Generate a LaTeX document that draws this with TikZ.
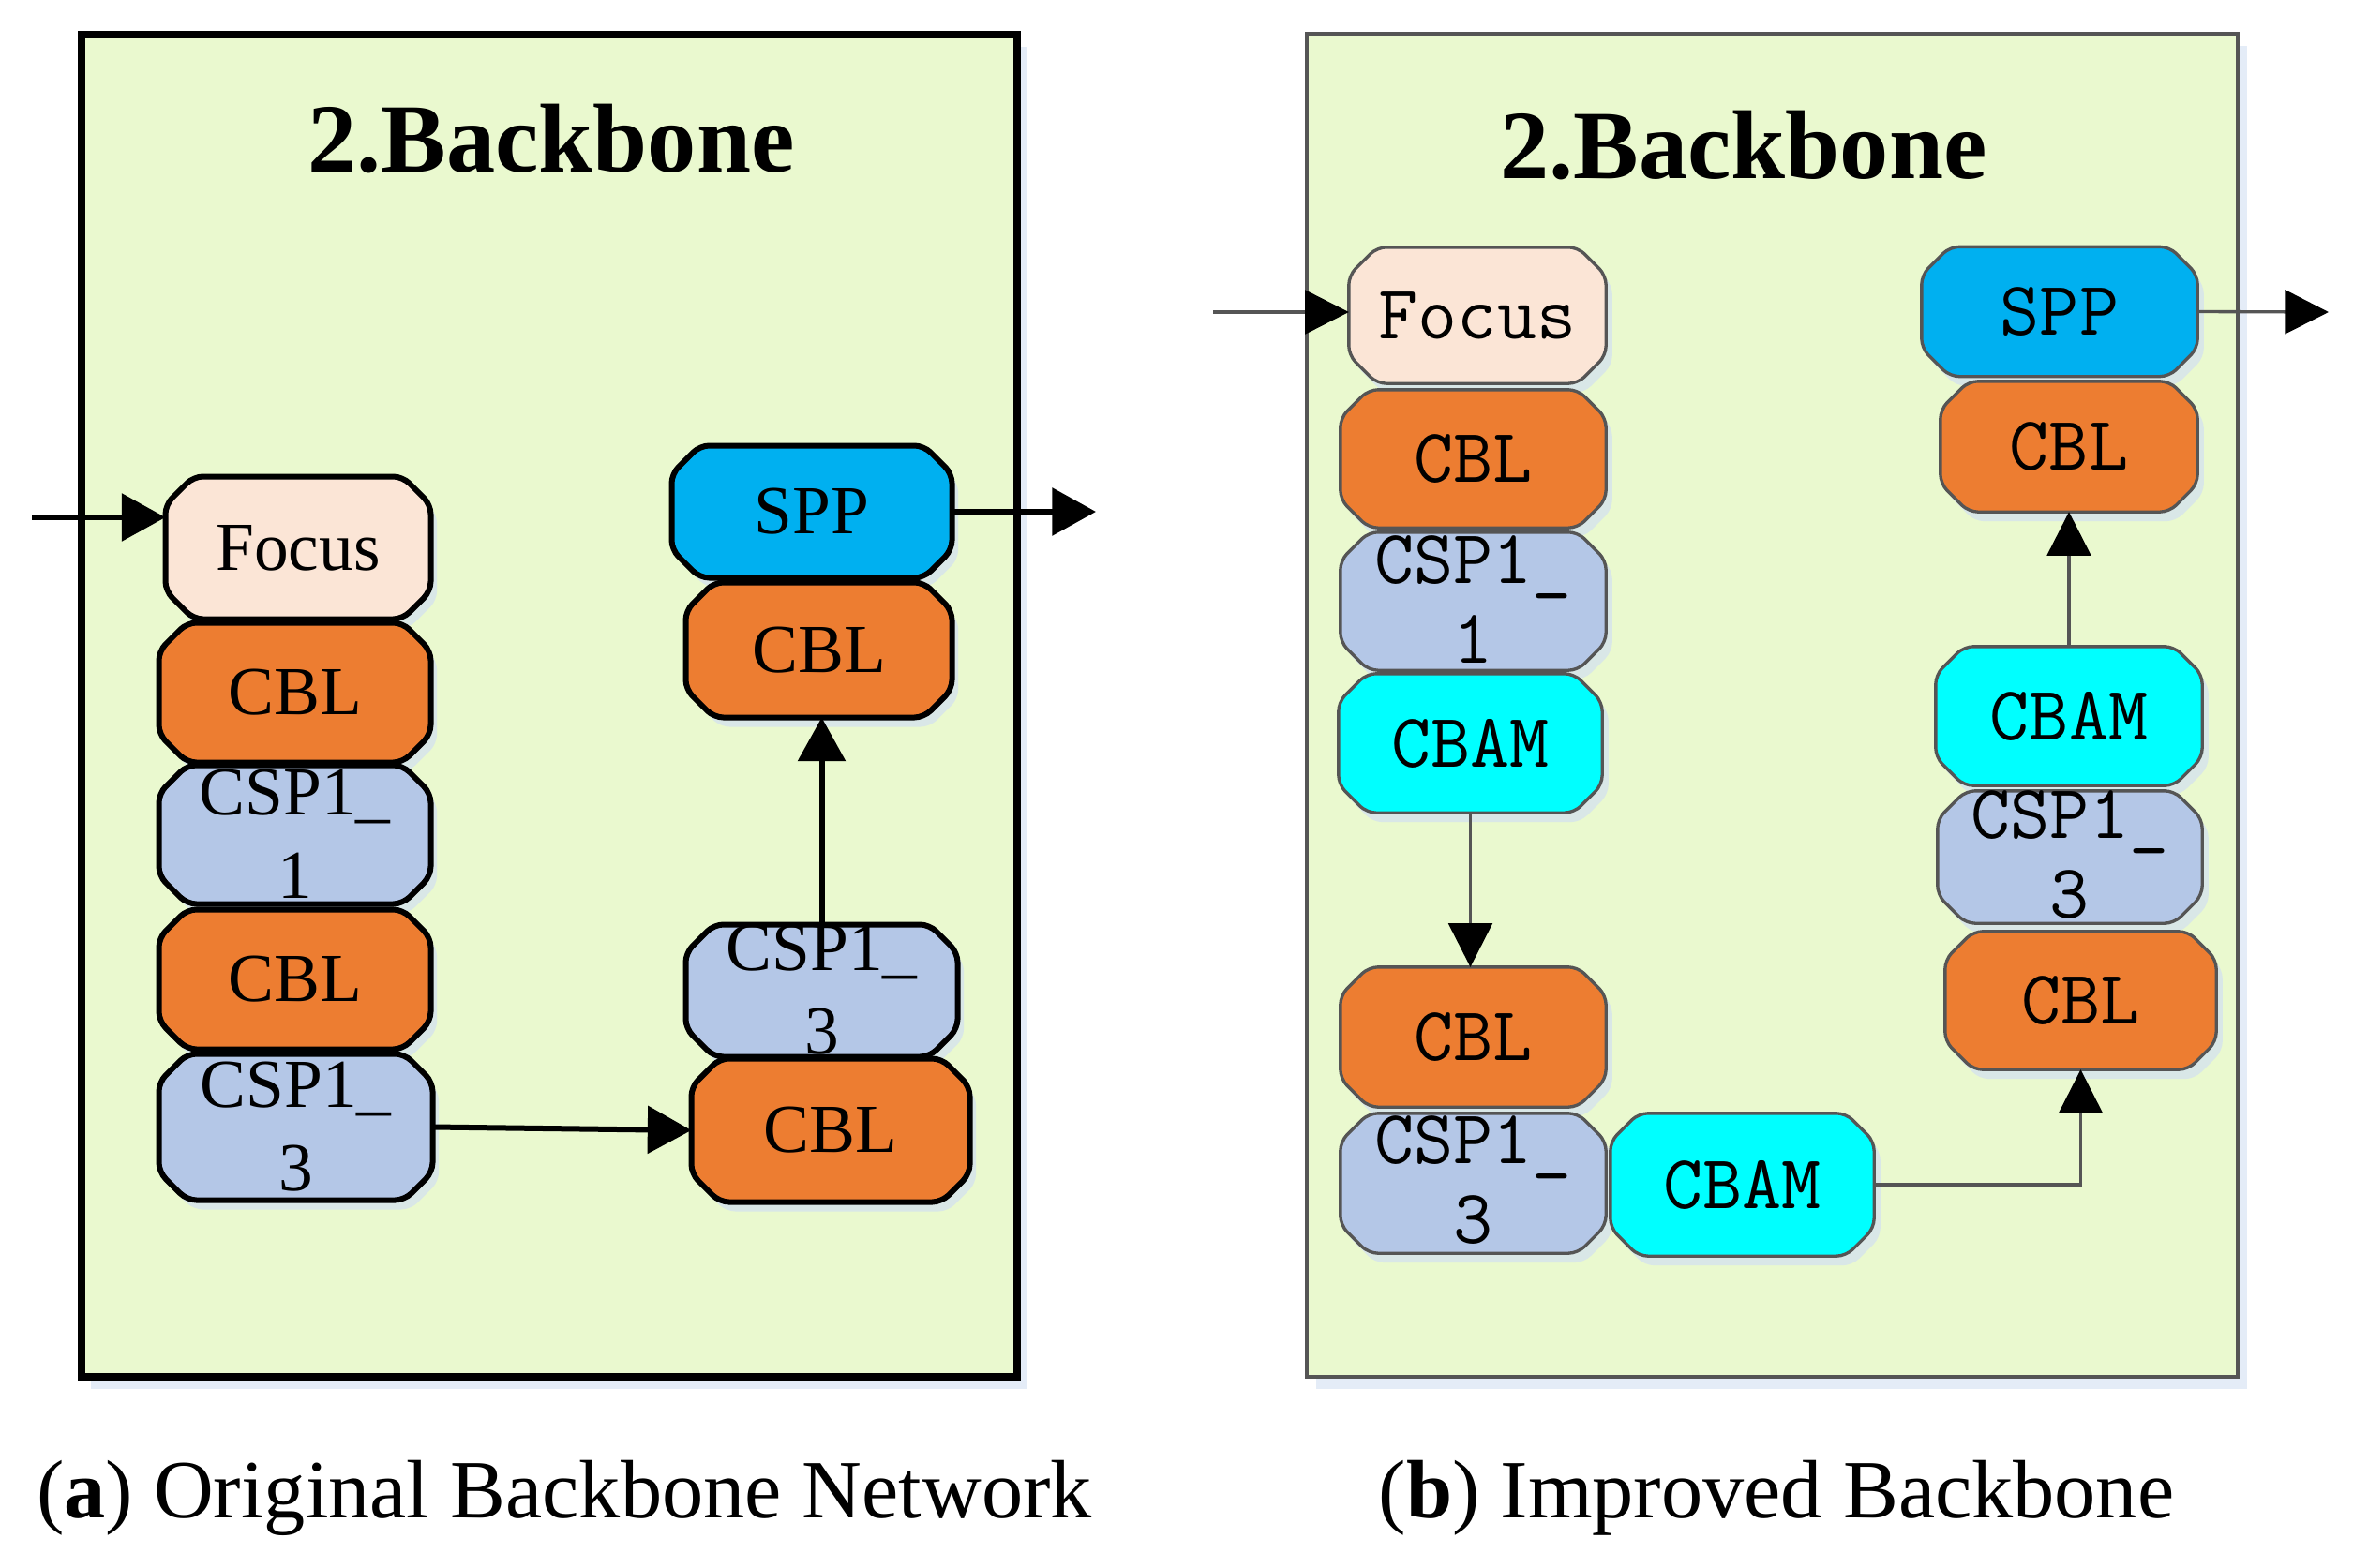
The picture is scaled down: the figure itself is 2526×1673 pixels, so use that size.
\documentclass[tikz,border=0pt]{standalone}
\usepackage{fontspec}
\setmainfont{Liberation Serif}
\usetikzlibrary{arrows.meta,shadows}
\definecolor{panelbg}{RGB}{234,249,207}
\definecolor{focusc}{RGB}{251,229,214}
\definecolor{cblc}{RGB}{237,125,49}
\definecolor{cspc}{RGB}{180,199,231}
\definecolor{sppc}{RGB}{0,176,240}
\definecolor{cbamc}{RGB}{0,255,255}
\definecolor{rimgray}{RGB}{85,85,85}
\definecolor{shadec}{RGB}{210,224,242}
% two-line label that does not grow the box
\newcommand{\splitlbl}[3]{\raisebox{#1}[0pt][0pt]{\begin{tabular}[t]{@{}c@{}}#2\\#3\end{tabular}}}
% rectangle with cut corners
\makeatletter
\newdimen\cbxa \newdimen\cbya \newdimen\cbxb \newdimen\cbyb
\def\cbcut{9pt}
\pgfdeclareshape{cutbox}{%
  \inheritsavedanchors[from=rectangle]%
  \inheritanchorborder[from=rectangle]%
  \inheritanchor[from=rectangle]{center}%
  \inheritanchor[from=rectangle]{base}%
  \inheritanchor[from=rectangle]{mid}%
  \inheritanchor[from=rectangle]{north}%
  \inheritanchor[from=rectangle]{south}%
  \inheritanchor[from=rectangle]{east}%
  \inheritanchor[from=rectangle]{west}%
  \inheritanchor[from=rectangle]{north east}%
  \inheritanchor[from=rectangle]{north west}%
  \inheritanchor[from=rectangle]{south east}%
  \inheritanchor[from=rectangle]{south west}%
  \backgroundpath{%
    \southwest \cbxa=\pgf@x \cbya=\pgf@y
    \northeast \cbxb=\pgf@x \cbyb=\pgf@y
    \pgfpathmoveto{\pgfqpoint{\dimexpr(\cbxa+\cbxb)/2\relax}{\cbya}}%
    \pgfpathlineto{\pgfqpoint{\dimexpr\cbxb-\cbcut\relax}{\cbya}}%
    \pgfpathlineto{\pgfqpoint{\cbxb}{\dimexpr\cbya+\cbcut\relax}}%
    \pgfpathlineto{\pgfqpoint{\cbxb}{\dimexpr\cbyb-\cbcut\relax}}%
    \pgfpathlineto{\pgfqpoint{\dimexpr\cbxb-\cbcut\relax}{\cbyb}}%
    \pgfpathlineto{\pgfqpoint{\dimexpr\cbxa+\cbcut\relax}{\cbyb}}%
    \pgfpathlineto{\pgfqpoint{\cbxa}{\dimexpr\cbyb-\cbcut\relax}}%
    \pgfpathlineto{\pgfqpoint{\cbxa}{\dimexpr\cbya+\cbcut\relax}}%
    \pgfpathlineto{\pgfqpoint{\dimexpr\cbxa+\cbcut\relax}{\cbya}}%
    \pgfpathclose
  }%
}
\makeatother

\begin{document}
\begin{tikzpicture}[x=0.3pt,y=-0.3pt,>={Triangle[length=14pt,width=15pt]},
  blk/.style={cutbox,rounded corners=3pt,draw,inner sep=0pt,align=center,
    drop shadow={shadow xshift=2pt,shadow yshift=-3pt,fill=shadec,opacity=.7}},
  blka/.style={blk,line width=1.8pt,font=\fontsize{22}{26.7}\selectfont},
  blkb/.style={blk,line width=1pt,draw=rimgray,font=\ttfamily\fontsize{24.5}{25.5}\selectfont},
  sz/.style 2 args={minimum width=#1*0.3pt-1.5pt,minimum height=#2*0.3pt-1.5pt},
  foc/.style={fill=focusc},cbl/.style={fill=cblc},csp/.style={fill=cspc},
  spp/.style={fill=sppc},cbam/.style={fill=cbamc},
  arra/.style={->,line width=1.8pt},
  arrb/.style={-{Triangle[length=14pt,width=14pt,color=black]},line width=1pt,draw=rimgray},
  panel/.style={fill=panelbg,drop shadow={shadow xshift=3pt,shadow yshift=-4pt,fill=shadec,opacity=.6}},
  ttl/.style={font=\bfseries\fontsize{31.3}{36}\selectfont,anchor=base},
  captxt/.style={font=\fontsize{26.5}{32}\selectfont,anchor=base}]
\useasboundingbox (0,0) rectangle (2526,1673);

% (a) original
\draw[panel,line width=2.2pt] (87,37) rectangle (1085,1469);
\node[ttl] (tA) at (588,183) {2.Backbone};
\node[blka,foc,sz={282}{151}] (fcA) at (318,584.5) {Focus};
\node[blka,cbl,sz={289}{148}] (cbA1) at (314.5,739) {CBL};
\node[blka,csp,sz={289}{147}] (csA1) at (314.5,890.5) {\splitlbl{6.45pt}{CSP1\_}{1}};
\node[blka,cbl,sz={289}{148}] (cbA2) at (314.5,1045) {CBL};
\node[blka,csp,sz={291}{155}] (csA2) at (315.5,1202.5) {\splitlbl{6.45pt}{CSP1\_}{3}};
\node[blka,spp,sz={298}{140}] (spA) at (866,546) {SPP};
\node[blka,cbl,sz={283}{143}] (cbA3) at (873.5,693.5) {CBL};
\node[blka,csp,sz={289}{140}] (csA3) at (876.5,1057) {\splitlbl{6.45pt}{CSP1\_}{3}};
\node[blka,cbl,sz={296}{152}] (cbA4) at (886,1206) {CBL};
\coordinate (inA) at (34,552);
\coordinate (outA) at (1169,546);
\draw[arra] (inA) -- (inA -| fcA.west);
\draw[arra] (spA.east) -- (outA);
\draw[arra] (csA2.east) -- (cbA4.west);
\draw[arra] (csA3.north) -- (csA3.north |- cbA3.south);

% (b) improved
\draw[panel,line width=1.4pt,draw=rimgray] (1394,36) rectangle (2387,1469);
\node[ttl] (tB) at (1860,190) {2.Backbone};
\node[blkb,foc,sz={276}{147}] (fcB) at (1576,336.5) {Focus};
\node[blkb,cbl,sz={285}{149}] (cbB1) at (1571.5,489.5) {CBL};
\node[blkb,csp,sz={285}{149}] (csB1) at (1571.5,641.5) {\splitlbl{5.85pt}{CSP1\_}{1}};
\node[blkb,cbam,sz={283}{150}] (cmB1) at (1568.5,793) {CBAM};
\node[blkb,cbl,sz={285}{151}] (cbB2) at (1571.5,1106.5) {CBL};
\node[blkb,csp,sz={285}{151}] (csB2) at (1571.5,1262.5) {\splitlbl{6.45pt}{CSP1\_}{3}};
\node[blkb,cbam,sz={283}{154}] (cmB2) at (1858.5,1264) {CBAM};
\node[blkb,spp,sz={296}{140}] (spB) at (2197,332.5) {SPP};
\node[blkb,cbl,sz={276}{141}] (cbB4) at (2207,476.5) {CBL};
\node[blkb,cbam,sz={286}{150}] (cmB3) at (2207,764) {CBAM};
\node[blkb,csp,sz={284}{143}] (csB3) at (2208,914.5) {\splitlbl{6.15pt}{CSP1\_}{3}};
\node[blkb,cbl,sz={291}{149}] (cbB3) at (2219.5,1067.5) {CBL};
\coordinate (inB) at (1294,333);
\coordinate (outB) at (2484,333);
\draw[arrb] (inB) -- (inB -| fcB.west);
\draw[arrb] (spB.east) -- (outB);
\draw[arrb] (cmB1.south) -- (cmB1.south |- cbB2.north);
\draw[arrb] (cmB2.east) -| (cbB3.south);
\draw[arrb] (cmB3.north) -- (cmB3.north |- cbB4.south);

% captions
\node[captxt] (capA) at (602,1619) {(\textbf{a}) Original Backbone Network};
\node[captxt] (capB) at (1895,1619) {(\textbf{b}) Improved Backbone};
\end{tikzpicture}
\end{document}
